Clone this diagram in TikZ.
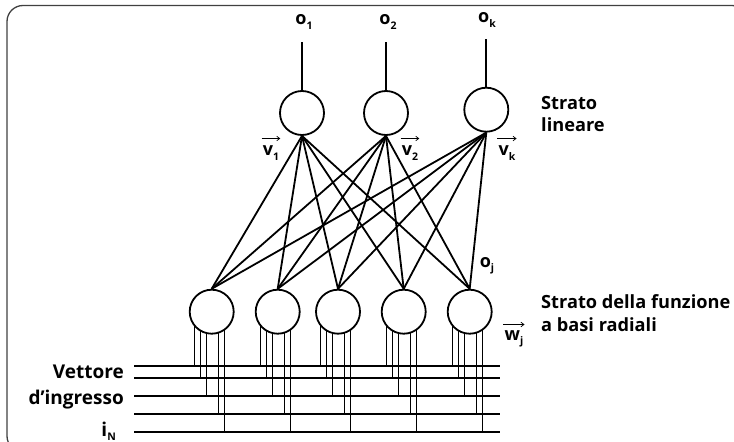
\documentclass[tikz,border=0pt]{standalone}
\usepackage{fontspec}
\setmainfont{Open Sans}
\usetikzlibrary{backgrounds,arrows.meta,calc}
\newcommand{\lowsub}[1]{\raisebox{-0.45ex}{\fontsize{10.5}{10.5}\selectfont #1}}

\begin{document}
\begin{tikzpicture}[x=1pt,y=-1pt,line width=1.8pt,
  neuron/.style={circle,draw,fill=white,minimum size=44pt,inner sep=0pt,line width=1.8pt},
  layertext/.style={font=\fontsize{18.2}{22.5}\selectfont\bfseries,align=left,anchor=west,inner sep=0pt},
  inlabel/.style={font=\fontsize{19}{23}\selectfont\bfseries,anchor=east,inner sep=0pt},
  outlabel/.style={font=\fontsize{18}{20}\selectfont\bfseries,inner sep=0pt},
  veclabel/.style={font=\fontsize{18}{20}\selectfont\bfseries,inner sep=0pt},
  vecarrow/.style={line width=0.7pt,-{Straight Barb[length=3pt,width=4.5pt]}},
  bus/.style={line width=1.8pt}]
\useasboundingbox (0,0) rectangle (734,442);
\clip (0,0) rectangle (734,442);

% outer frame
\draw[line width=1.3pt,black!75,rounded corners=16pt] (7,5.5) rectangle (748,452);

% output (linear) layer
\node[neuron] (o1) at (302,113) {};
\node[neuron] (o2) at (386,113) {};
\node[neuron] (ok) at (486.3,109.7) {};
\coordinate (t1) at (302,42);
\coordinate (t2) at (386,42);
\coordinate (tk) at (486.3,39);
\draw (o1.north) -- (t1);
\draw (o2.north) -- (t2);
\draw (ok.north) -- (tk);
\node[outlabel] (lo1) at (304,22) {o\lowsub{1}};
\node[outlabel] (lo2) at (388,22) {o\lowsub{2}};
\node[outlabel] (lok) at (487,20) {o\lowsub{k}};

% radial basis layer
\node[neuron] (h1) at (211.7,311.7) {};
\node[neuron] (h2) at (277.7,311.7) {};
\node[neuron] (h3) at (338,311.7) {};
\node[neuron] (h4) at (403.7,311.7) {};
\node[neuron] (h5) at (469.7,311.7) {};

% full connections between the two layers
\foreach \o in {o1,o2,ok}
  \foreach \h in {h1,h2,h3,h4,h5}
    \draw (\o.south) -- (\h.north);

% input bus
\foreach \i/\y in {1/366,2/377.7,3/396,4/414,5/432.3} {
  \coordinate (bl\i) at (134,\y);
  \coordinate (br\i) at (500,\y);
  \draw[bus] (bl\i) -- (br\i);
}

% taps from the bus into each radial unit
\begin{pgfonlayer}{background}
\foreach \h in {h1,h2,h3,h4,h5}
  \foreach \dx/\b in {-17.7/1,-11.7/2,-5.7/3,6/4,12.2/5} {
    \path ($(\h.center)+(\dx,0)$) coordinate (p);
    \draw (p) -- (p |- bl\b);
  }
\end{pgfonlayer}

% weight vectors
\node[veclabel] (v1) at (271,153) {v\lowsub{1}};
\node[veclabel] (v2) at (410,153) {v\lowsub{2}};
\node[veclabel] (vk) at (507,153) {v\lowsub{k}};
\node[veclabel] (wj) at (514,339) {w\lowsub{j}};
\foreach \v in {v1,v2,vk,wj}
  \draw[vecarrow] ($(\v.west)+(-1,-14.5)$) -- ($(\v.east)+(1,-14.5)$);

\node[veclabel] (oj) at (487,266) {o\lowsub{j}};

% layer names
\node[layertext] (sl) at (541,114) {Strato\\lineare};
\node[layertext] (srb) at (541,313) {Strato della funzione\\a basi radiali};

% input vector label
\node[inlabel] (vet) at (124,372) {Vettore};
\node[inlabel] (ding) at (124,400) {d’ingresso};
\node[inlabel,anchor=base east] (iN) at (116,436) {i\lowsub{N}};
\end{tikzpicture}
\end{document}
